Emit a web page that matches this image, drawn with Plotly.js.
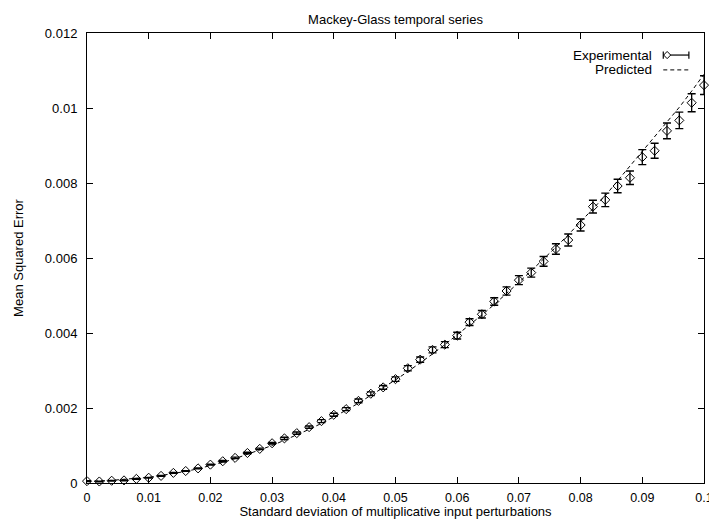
<!DOCTYPE html>
<html>
<head>
<meta charset="utf-8">
<script src="https://cdn.plot.ly/plotly-3.0.1.min.js"></script>
<style>html,body{margin:0;padding:0;background:#fff;}#chart{width:709px;height:519px;}</style>
</head>
<body>
<div id="chart"></div>
<script>
// ---- data ----
const sigma = [0, 0.002, 0.004, 0.006, 0.008, 0.01, 0.012, 0.014, 0.016, 0.018,
  0.02, 0.022, 0.024, 0.026, 0.028, 0.03, 0.032, 0.034, 0.036, 0.038,
  0.04, 0.042, 0.044, 0.046, 0.048, 0.05, 0.052, 0.054, 0.056, 0.058,
  0.06, 0.062, 0.064, 0.066, 0.068, 0.07, 0.072, 0.074, 0.076, 0.078,
  0.08, 0.082, 0.084, 0.086, 0.088, 0.09, 0.092, 0.094, 0.096, 0.098, 0.1];

const experimental = [0.00005, 0.00004, 0.00006, 0.00007, 0.00011, 0.00014, 0.00019, 0.00027, 0.00032, 0.00039,
  0.00049, 0.00058, 0.00067, 0.0008, 0.00091, 0.00106, 0.00119, 0.00133, 0.00149, 0.00165,
  0.00182, 0.00197, 0.00219, 0.00238, 0.00255, 0.00277, 0.00306, 0.00329, 0.00355, 0.00369,
  0.00393, 0.00429, 0.0045, 0.00484, 0.00512, 0.00541, 0.00561, 0.00591, 0.00624, 0.00648,
  0.00688, 0.00737, 0.00755, 0.00792, 0.00814, 0.00869, 0.00886, 0.00939, 0.00967, 0.01014, 0.01061];

const experimentalErr = [0.00001, 0.00001, 0.00001, 0.00001, 0.00001, 0.00001, 0.00001, 0.00001, 0.00001, 0.00001,
  0.00001, 0.00002, 0.00002, 0.00002, 0.00002, 0.00002, 0.00003, 0.00003, 0.00003, 0.00004,
  0.00004, 0.00004, 0.00005, 0.00005, 0.00005, 0.00006, 0.00007, 0.00007, 0.00008, 0.00008,
  0.00009, 0.00009, 0.0001, 0.0001, 0.00011, 0.00012, 0.00012, 0.00013, 0.00014, 0.00016,
  0.00016, 0.00017, 0.00018, 0.00018, 0.00018, 0.0002, 0.0002, 0.00021, 0.00022, 0.00024, 0.00025];

const predicted = [0.00004, 0.00005, 0.00007, 0.0001, 0.00012, 0.00015, 0.0002, 0.00025, 0.00031, 0.00038,
  0.00046, 0.00055, 0.00065, 0.00076, 0.00088, 0.001, 0.00114, 0.00128, 0.00143, 0.00159,
  0.00176, 0.00194, 0.00213, 0.00233, 0.00253, 0.00275, 0.00297, 0.0032, 0.00344, 0.00369,
  0.00395, 0.00421, 0.00448, 0.00476, 0.00505, 0.00535, 0.00566, 0.00597, 0.00629, 0.00662,
  0.00696, 0.00731, 0.00766, 0.00806, 0.00845, 0.00885, 0.00922, 0.0096, 0.01002, 0.01045, 0.0109];

const xTickVals = [0, 0.01, 0.02, 0.03, 0.04, 0.05, 0.06, 0.07, 0.08, 0.09, 0.1];
const xTickText = ["0", "0.01", "0.02", "0.03", "0.04", "0.05", "0.06", "0.07", "0.08", "0.09", "0.1"];
const yTickVals = [0, 0.002, 0.004, 0.006, 0.008, 0.01, 0.012];
const yTickText = ["0", "0.002", "0.004", "0.006", "0.008", "0.01", "0.012"];

const seriesNames = ["Experimental", "Predicted"];
const chartTitle = "Mackey-Glass temporal series";
const xTitle = "Standard deviation of multiplicative input perturbations";
const yTitle = "Mean Squared Error";

// ---- traces ----
const FONT = "Liberation Sans, Arial, Helvetica, sans-serif";
const traces = [
  {
    x: sigma, y: predicted, name: seriesNames[1], type: "scatter", mode: "lines",
    line: {color: "black", width: 1, dash: "4px,3px"}, showlegend: false, hoverinfo: "skip"
  },
  {
    x: sigma, y: experimental, name: seriesNames[0], type: "scatter", mode: "markers",
    marker: {symbol: "diamond-open", size: 7, color: "black", line: {width: 1, color: "black"}},
    error_y: {type: "data", array: experimentalErr, visible: true, color: "black", thickness: 1.3, width: 4},
    showlegend: false, cliponaxis: false
  }
];

// custom gnuplot-style key (text on the left, sample on the right)
const keyX0 = 0.934, keyX1 = 0.9755, yRow1 = 0.951, yRow2 = 0.918;
const layout = {
  width: 709, height: 519,
  margin: {l: 87, r: 5, t: 33, b: 36},
  paper_bgcolor: "white", plot_bgcolor: "white",
  font: {family: FONT, size: 13, color: "black"},
  showlegend: false,
  title: {text: chartTitle, font: {family: FONT, size: 13, color: "black"},
          xref: "paper", x: 0.5, xanchor: "center", yref: "container", y: 0.962, yanchor: "middle"},
  xaxis: {
    range: [0, 0.1], tickvals: xTickVals, ticktext: xTickText,
    showgrid: false, zeroline: false, showline: true, mirror: "ticks", linecolor: "black", linewidth: 1,
    ticks: "inside", ticklen: 6, tickcolor: "black", tickwidth: 1, ticklabelstandoff: 3,
    ticklabeloverflow: "allow",
    tickfont: {family: FONT, size: 12.5, color: "black"},
    title: {text: xTitle, font: {family: FONT, size: 13, color: "black"}, standoff: 2},
    automargin: false, fixedrange: true
  },
  yaxis: {
    range: [0, 0.012], tickvals: yTickVals, ticktext: yTickText,
    showgrid: false, zeroline: false, showline: true, mirror: "ticks", linecolor: "black", linewidth: 1,
    ticks: "inside", ticklen: 6, tickcolor: "black", tickwidth: 1, ticklabelstandoff: 6,
    tickfont: {family: FONT, size: 13, color: "black"},
    title: {text: yTitle, font: {family: FONT, size: 13, color: "black"}, standoff: 18},
    automargin: false, fixedrange: true
  },
  annotations: [
    {xref: "paper", yref: "paper", x: 0.919, y: yRow1, text: seriesNames[0], showarrow: false,
     xanchor: "right", yanchor: "middle", font: {family: FONT, size: 13.5, color: "black"}},
    {xref: "paper", yref: "paper", x: 0.919, y: yRow2, text: seriesNames[1], showarrow: false,
     xanchor: "right", yanchor: "middle", font: {family: FONT, size: 13.5, color: "black"}}
  ],
  shapes: [
    {type: "line", xref: "paper", yref: "paper", x0: keyX0, x1: keyX1, y0: yRow1, y1: yRow1, line: {color: "black", width: 1.2}},
    {type: "line", xref: "paper", yref: "paper", x0: keyX0, x1: keyX0, y0: yRow1 - 0.008, y1: yRow1 + 0.008, line: {color: "black", width: 1.2}},
    {type: "line", xref: "paper", yref: "paper", x0: keyX1, x1: keyX1, y0: yRow1 - 0.008, y1: yRow1 + 0.008, line: {color: "black", width: 1.2}},
    {type: "path", xref: "paper", yref: "paper",
     path: "M 0.9403 " + (yRow1 + 0.008) + " L 0.9460 " + yRow1 + " L 0.9403 " + (yRow1 - 0.008) + " L 0.9346 " + yRow1 + " Z",
     fillcolor: "white", line: {color: "black", width: 1}},
    {type: "line", xref: "paper", yref: "paper", x0: keyX0, x1: keyX1, y0: yRow2, y1: yRow2, line: {color: "black", width: 1, dash: "4px,3px"}}
  ]
};

Plotly.newPlot("chart", traces, layout, {displayModeBar: false, staticPlot: true});
</script>
</body>
</html>
